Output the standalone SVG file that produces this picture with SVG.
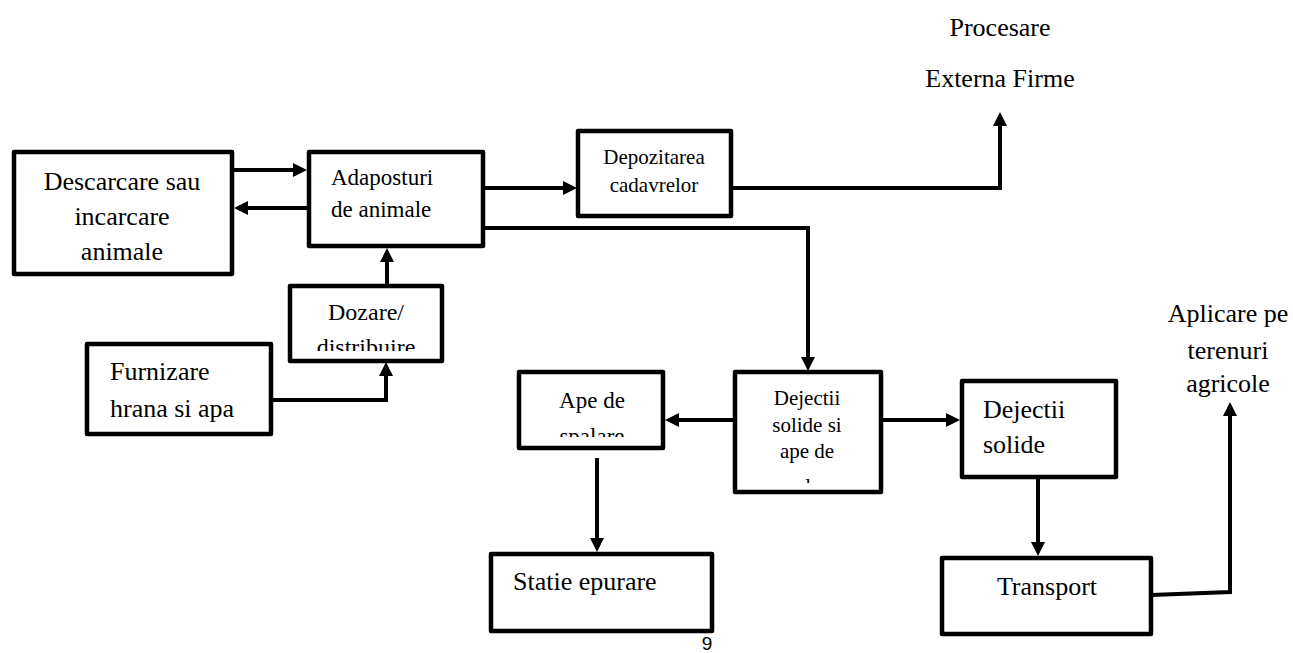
<svg xmlns="http://www.w3.org/2000/svg" width="1293" height="653" viewBox="0 0 1293 653">
<style>
.box{fill:#fff;stroke:#000;stroke-width:4.5;stroke-linejoin:round}
.t{font-family:'Liberation Serif','Times New Roman',serif;fill:#000}
.c{text-anchor:middle}
.conn{fill:none;stroke:#000;stroke-width:4;stroke-linejoin:miter}
</style>
<defs>
<marker id="ah" viewBox="0 0 14 14" refX="4" refY="7" markerWidth="14" markerHeight="14" markerUnits="userSpaceOnUse" orient="auto">
<path d="M0,0 L14,7 L0,14 Z" fill="#000"/>
</marker>
<clipPath id="clipDoz"><rect x="290" y="286" width="152" height="65"/></clipPath>
<clipPath id="clipApe"><rect x="519" y="372" width="144" height="65"/></clipPath>
<clipPath id="clipDej"><rect x="735" y="372" width="146" height="111"/></clipPath>
</defs>
<rect width="1293" height="653" fill="#fff"/>

<g id="connectors">
<path class="conn" d="M232,170 H297" marker-end="url(#ah)"/>
<path class="conn" d="M307,208 H244" marker-end="url(#ah)"/>
<path class="conn" d="M387,286 V258" marker-end="url(#ah)"/>
<path class="conn" d="M271,400 H386 V372" marker-end="url(#ah)"/>
<path class="conn" d="M483,188 H567" marker-end="url(#ah)"/>
<path class="conn" d="M731,188 H1000 V122" marker-end="url(#ah)"/>
<path class="conn" d="M483,228 H808 V361" marker-end="url(#ah)"/>
<path class="conn" d="M735,420 H675" marker-end="url(#ah)"/>
<path class="conn" d="M881,420 H950" marker-end="url(#ah)"/>
<path class="conn" d="M597,458 V542" marker-end="url(#ah)"/>
<path class="conn" d="M1038,478 V546" marker-end="url(#ah)"/>
<path class="conn" d="M1151,595 L1230,592 V412" marker-end="url(#ah)"/>
</g>

<g id="descarcare">
<rect class="box" x="14" y="152" width="218" height="122"/>
<text class="t c" x="122" y="190" font-size="26">Descarcare sau</text>
<text class="t c" x="122" y="225" font-size="26">incarcare</text>
<text class="t c" x="122" y="260" font-size="26">animale</text>
</g>

<g id="adaposturi">
<rect class="box" x="309" y="152" width="174" height="94"/>
<text class="t" x="331" y="185" font-size="23">Adaposturi</text>
<text class="t" x="331" y="217" font-size="23">de animale</text>
</g>

<g id="dozare">
<rect class="box" x="290" y="286" width="152" height="75"/>
<text class="t c" x="366" y="320" font-size="24">Dozare/</text>
<text class="t c" x="366" y="355" font-size="24" clip-path="url(#clipDoz)">distribuire</text>
</g>

<g id="furnizare">
<rect class="box" x="87" y="344" width="184" height="90"/>
<text class="t" x="110" y="380" font-size="26">Furnizare</text>
<text class="t" x="110" y="417" font-size="26">hrana si apa</text>
</g>

<g id="depozitarea">
<rect class="box" x="578" y="131" width="153" height="85"/>
<text class="t c" x="654" y="164" font-size="21">Depozitarea</text>
<text class="t c" x="654" y="192" font-size="21">cadavrelor</text>
</g>

<g id="procesare">
<text class="t c" x="1000" y="36" font-size="26">Procesare</text>
<text class="t c" x="1000" y="87" font-size="26">Externa Firme</text>
</g>

<g id="ape">
<rect class="box" x="519" y="372" width="144" height="76"/>
<text class="t c" x="592" y="408" font-size="23">Ape de</text>
<text class="t c" x="592" y="444" font-size="23" clip-path="url(#clipApe)">spalare</text>
</g>

<g id="dejectii-mix">
<rect class="box" x="735" y="372" width="146" height="120"/>
<text class="t c" x="807" y="405" font-size="21">Dejectii</text>
<text class="t c" x="807" y="432" font-size="21">solide si</text>
<text class="t c" x="807" y="458" font-size="21">ape de</text>
<text class="t c" x="807" y="493" font-size="21" clip-path="url(#clipDej)">spalare</text>
</g>

<g id="dejectii-solide">
<rect class="box" x="962" y="381" width="154" height="96"/>
<text class="t" x="983" y="418" font-size="26">Dejectii</text>
<text class="t" x="983" y="453" font-size="26">solide</text>
</g>

<g id="statie">
<rect class="box" x="491" y="554" width="221" height="77"/>
<text class="t" x="513" y="590" font-size="26">Statie epurare</text>
</g>

<g id="transport">
<rect class="box" x="942" y="558" width="209" height="76"/>
<text class="t c" x="1047" y="595" font-size="26">Transport</text>
</g>

<g id="aplicare">
<text class="t c" x="1228" y="322" font-size="26">Aplicare pe</text>
<text class="t c" x="1228" y="359" font-size="26">terenuri</text>
<text class="t c" x="1228" y="392" font-size="26">agricole</text>
</g>

<g id="page-number">
<text x="707" y="650" font-family="'Liberation Sans', Arial, sans-serif" font-size="19" text-anchor="middle" fill="#000">9</text>
</g>
</svg>
